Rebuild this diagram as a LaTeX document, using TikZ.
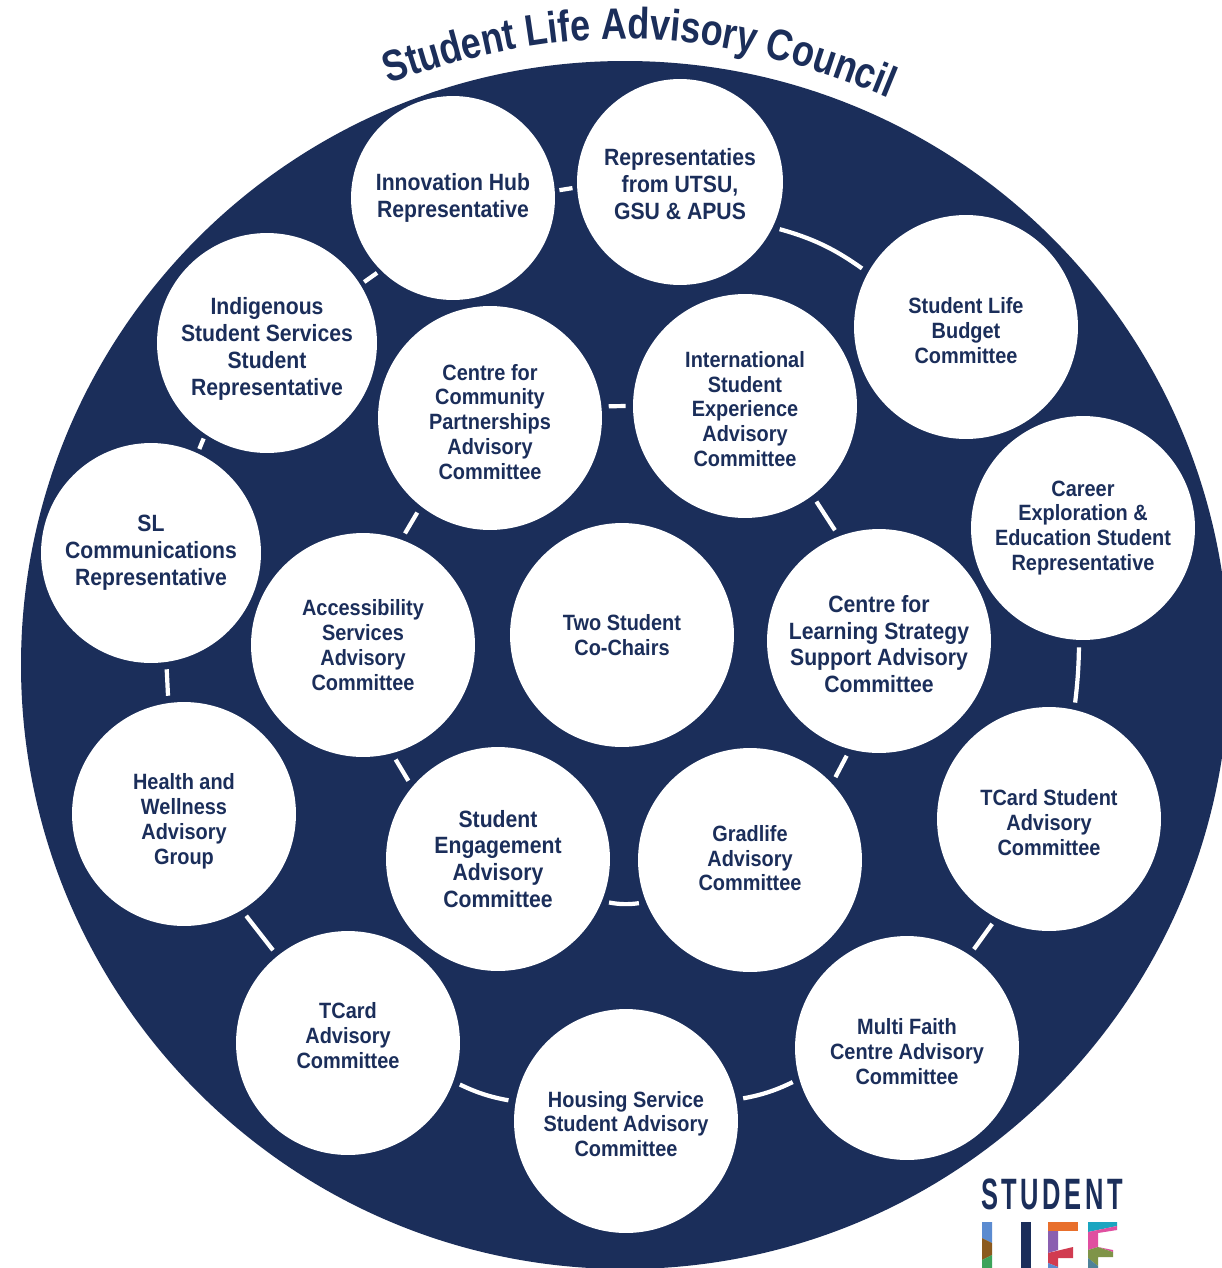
\documentclass[tikz,border=0pt]{standalone}
\usepackage{fontspec}
\usepackage{tikz}
\usetikzlibrary{decorations.text}
\setmainfont{Liberation Sans}[FakeStretch=0.9]
\newfontfamily\titlefont{Liberation Sans}[FakeStretch=0.82]
\newfontfamily\logofont{Liberation Sans}[FakeStretch=0.58,LetterSpace=8]
\definecolor{navy}{HTML}{1B2E5A}
\definecolor{logoBlue}{HTML}{5B8BD0}
\definecolor{logoBrown}{HTML}{8B5A1E}
\definecolor{logoGreen}{HTML}{3DA35A}
\definecolor{logoOrange}{HTML}{E86F2C}
\definecolor{logoPurple}{HTML}{8A5FB0}
\definecolor{logoRed}{HTML}{D13B50}
\definecolor{logoTeal}{HTML}{1BA5C0}
\definecolor{logoPink}{HTML}{E04FA0}
\definecolor{logoOlive}{HTML}{7F9448}
\definecolor{logoSlate}{HTML}{4F8299}
\tikzset{
	bubble/.style = {circle, fill = white, text = navy, inner sep = 0pt, minimum size = 4.48cm, align = center, font = \bfseries\fontsize{12.6}{14.2}\selectfont},
	bigtext/.style = {font = \bfseries\fontsize{13.4}{15.3}\selectfont},
	nudge/.style = {execute at begin node = {\rule{0pt}{#1}}},
	lift/.style = {execute at end node = {\rule[-#1]{0pt}{#1}}},
	link/.style = {white, line width = 2.4pt, shorten > = 4pt, shorten < = 4pt},
}
\begin{document}
\begin{tikzpicture}[x = .02cm, y = .02cm]
\clip (0, -1268) rectangle (1222, 0);
\fill[white] (0, -1268) rectangle (1222, 0);
% Background disc
\fill[navy] (625, -665) circle (604);
% Title
\coordinate (titleStart) at (384, -85);
\coordinate (titleEnd) at (893, -100);
\path[decorate, decoration = {text along path, text align = center, text color = navy, text = {|\titlefont\bfseries\fontsize{25}{27}\selectfont|Student Life Advisory Council}}] (titleStart) to[bend left = 21] (titleEnd);
% Outer ring
\node[bubble, bigtext, minimum size = 4.08cm] (innovation) at (453, -198) {Innovation Hub\\Representative};
\node[bubble, bigtext, minimum size = 4.12cm, nudge = 42.7pt] (reps) at (680, -182) {Representaties\\from UTSU,\\GSU \& APUS};
\node[bubble, nudge = 42pt] (budget) at (966, -327) {Student Life\\Budget\\Committee};
\node[bubble] (career) at (1083, -528) {Career\\Exploration \&\\Education Student\\Representative};
\node[bubble, nudge = 42pt] (tcardStudent) at (1049, -819) {TCard Student\\Advisory\\Committee};
\node[bubble, nudge = 42pt] (multiFaith) at (907, -1048) {Multi Faith\\Centre Advisory\\Committee};
\node[bubble, nudge = 41pt] (housing) at (626, -1121) {Housing Service\\Student Advisory\\Committee};
\node[bubble, lift = 9pt] (tcard) at (348, -1043) {TCard\\Advisory\\Committee};
\node[bubble, nudge = 59.7pt] (health) at (184, -814) {Health and\\Wellness\\Advisory\\Group};
\node[bubble, bigtext, minimum size = 4.4cm] (comms) at (151, -553) {SL\\Communications\\Representative};
\node[bubble, bigtext, minimum size = 4.4cm, nudge = 62.5pt] (indigenous) at (267, -343) {Indigenous\\Student Services\\Student\\Representative};
% Inner ring
\node[bubble, nudge = 70.5pt] (community) at (490, -418) {Centre for\\Community\\Partnerships\\Advisory\\Committee};
\node[bubble, nudge = 69.4pt] (international) at (745, -406) {International\\Student\\Experience\\Advisory\\Committee};
\node[bubble, bigtext, nudge = 59.1pt] (learning) at (879, -641) {Centre for\\Learning Strategy\\Support Advisory\\Committee};
\node[bubble, lift = 2.3pt] (gradlife) at (750, -860) {Gradlife\\Advisory\\Committee};
\node[bubble, bigtext] (engagement) at (498, -859) {Student\\Engagement\\Advisory\\Committee};
\node[bubble] (accessibility) at (363, -645) {Accessibility\\Services\\Advisory\\Committee};
% Centre
\node[bubble] (chairs) at (622, -635) {Two Student\\Co-Chairs};
% Outer links
\draw[link, shorten > = 2.5pt, shorten < = 2.5pt] (innovation.4) -- (reps.183);
\draw[link, bend left = 10] (reps.334) to (budget.151);
\draw[link, bend left = 3] (career.268) to (tcardStudent.77);
\draw[link] (tcardStudent.242) -- (multiFaith.56);
\draw[link, bend left = 8] (multiFaith.196) to (housing.11);
\draw[link, bend left = 8] (housing.170) to (tcard.340);
\draw[link] (tcard.129) -- (health.301);
\draw[link] (health.98) -- (comms.278);
\draw[link, shorten > = 2.5pt, shorten < = 2.5pt] (comms.65) -- (indigenous.236);
\draw[link, shorten > = 2.5pt, shorten < = 2.5pt] (indigenous.32) -- (innovation.225);
% Inner links
\draw[link] (community.6) -- (international.180);
\draw[link] (international.307) -- (learning.111);
\draw[link] (learning.255) -- (gradlife.43);
\draw[link, bend left = 10] (gradlife.202) to (engagement.338);
\draw[link] (engagement.140) -- (accessibility.285);
\draw[link] (accessibility.70) -- (community.232);
% Logo
\node[text = navy, inner sep = 0pt, font = \logofont\bfseries\fontsize{25}{25}\selectfont] (logoWord) at (1052, -1194) {STUDENT};
% L
\fill[logoBlue] (982, -1222) -- (992, -1222) -- (992, -1243) -- (982, -1238) -- cycle;
\fill[logoBrown] (982, -1238) -- (992, -1243) -- (992, -1255) -- (982, -1260) -- cycle;
\fill[logoGreen] (982, -1260) -- (992, -1255) -- (992, -1268) -- (982, -1268) -- cycle;
% I
\fill[navy] (1021, -1222) rectangle (1031, -1268);
% first F
\fill[logoOrange] (1048, -1222) rectangle (1078, -1231);
\fill[logoPurple] (1048, -1231) -- (1058, -1231) -- (1058, -1250) -- (1048, -1253) -- cycle;
\fill[logoRed] (1048, -1253) -- (1073, -1247) -- (1073, -1258) -- (1058, -1258) -- (1058, -1267) -- (1048, -1263) -- cycle;
\fill[logoBlue] (1048, -1263) -- (1058, -1267) -- (1058, -1268) -- (1048, -1268) -- cycle;
% second F
\fill[logoTeal] (1088, -1222) -- (1117, -1222) -- (1117, -1226) -- (1088, -1232) -- cycle;
\fill[logoPink] (1088, -1232) -- (1117, -1226) -- (1117, -1230) -- (1098, -1233) -- (1098, -1247) -- (1113, -1250) -- (1113, -1252) -- (1098, -1247) -- (1088, -1250) -- cycle;
\fill[logoOlive] (1088, -1250) -- (1098, -1247) -- (1113, -1252) -- (1113, -1257) -- (1098, -1257) -- (1098, -1266) -- (1088, -1258) -- cycle;
\fill[logoSlate] (1088, -1258) -- (1098, -1266) -- (1098, -1268) -- (1088, -1268) -- cycle;
\end{tikzpicture}
\end{document}
